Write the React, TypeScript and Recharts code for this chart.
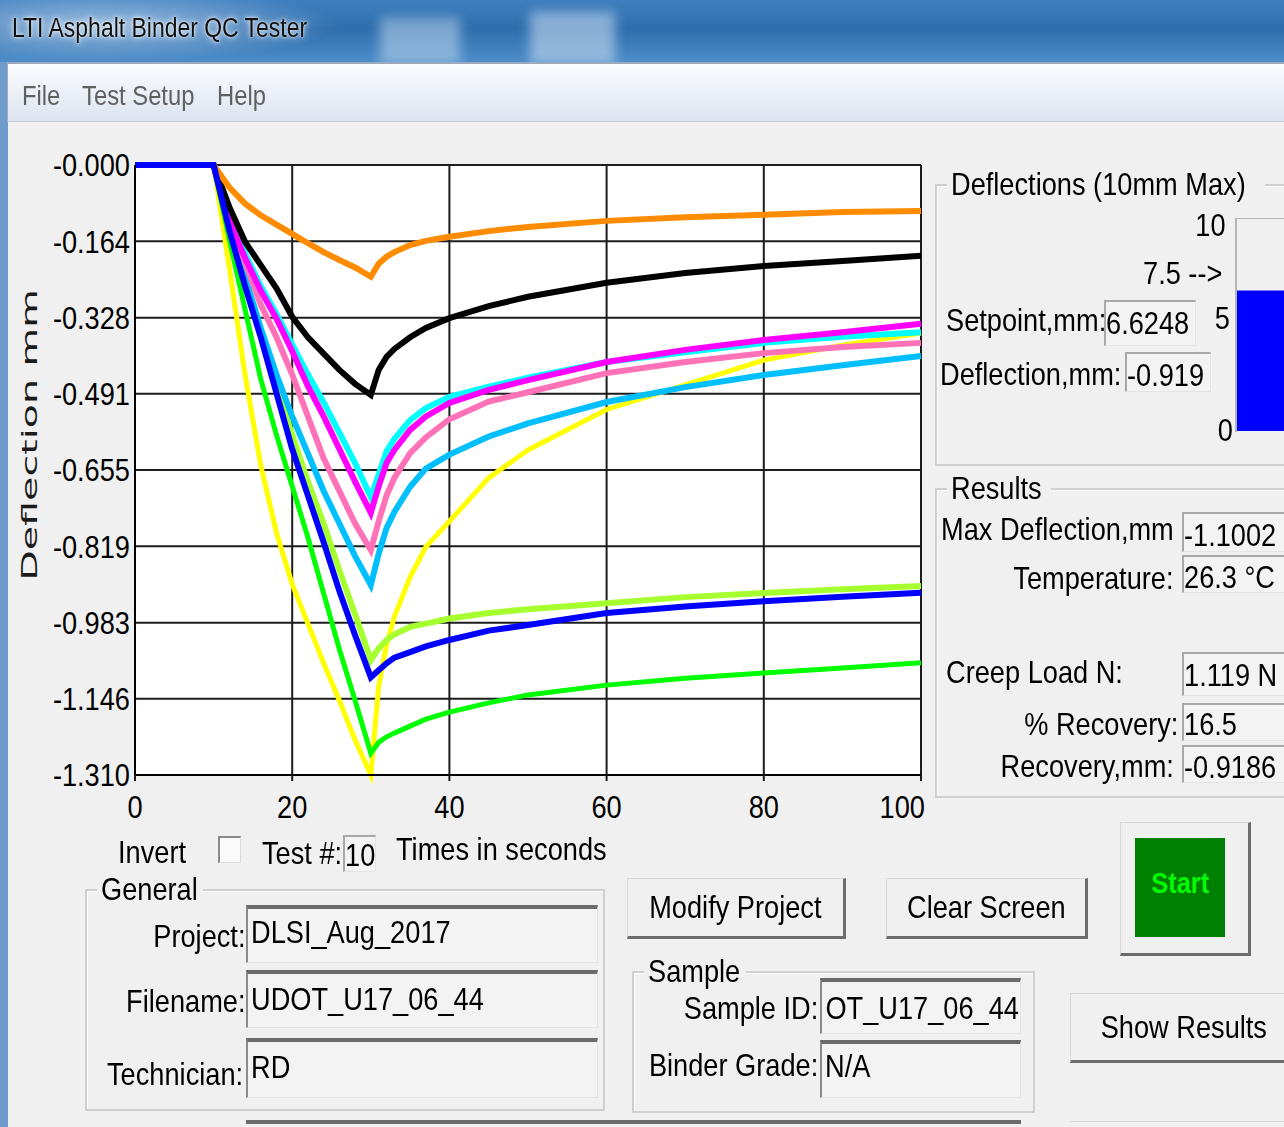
import React from 'react';
import { LineChart, Line, XAxis, YAxis, CartesianGrid, BarChart, Bar } from 'recharts';

// sample times (s) shared by every test trace
const time = [0, 10, 12, 14, 16, 18, 20, 22, 24, 26, 28, 30, 31, 32, 33, 35, 37, 40, 45, 50, 60, 70, 80, 90, 100];

// deflection traces (mm), one per stored test
const orange = [0, 0, -0.048, -0.083, -0.108, -0.128, -0.148, -0.168, -0.187, -0.204, -0.22, -0.24, -0.212, -0.197, -0.187, -0.172, -0.163, -0.154, -0.142, -0.133, -0.12, -0.112, -0.107, -0.101, -0.099];
const black = [0, 0, -0.09, -0.165, -0.215, -0.265, -0.326, -0.37, -0.405, -0.44, -0.47, -0.494, -0.44, -0.412, -0.395, -0.37, -0.35, -0.329, -0.303, -0.283, -0.253, -0.232, -0.217, -0.206, -0.195];
const cyan = [0, 0, -0.11, -0.19, -0.26, -0.32, -0.385, -0.45, -0.51, -0.575, -0.64, -0.713, -0.665, -0.615, -0.588, -0.548, -0.522, -0.498, -0.476, -0.457, -0.423, -0.402, -0.382, -0.369, -0.359];
const magenta = [0, 0, -0.12, -0.2, -0.27, -0.33, -0.4, -0.475, -0.54, -0.61, -0.68, -0.747, -0.69, -0.64, -0.612, -0.569, -0.54, -0.511, -0.483, -0.462, -0.423, -0.397, -0.376, -0.359, -0.341];
const pink = [0, 0, -0.12, -0.21, -0.3, -0.37, -0.45, -0.54, -0.63, -0.7, -0.77, -0.827, -0.765, -0.71, -0.672, -0.619, -0.585, -0.546, -0.508, -0.488, -0.447, -0.423, -0.404, -0.391, -0.382];
const skyBlue = [0, 0, -0.13, -0.24, -0.35, -0.45, -0.54, -0.62, -0.7, -0.77, -0.84, -0.902, -0.835, -0.78, -0.745, -0.691, -0.652, -0.622, -0.583, -0.555, -0.509, -0.477, -0.451, -0.43, -0.41];
const yellow = [0, 0, -0.22, -0.45, -0.645, -0.79, -0.9, -0.985, -1.07, -1.15, -1.235, -1.31, -1.12, -1.03, -0.97, -0.885, -0.82, -0.765, -0.672, -0.612, -0.525, -0.472, -0.419, -0.387, -0.361];
const yellowGreen = [0, 0, -0.13, -0.25, -0.36, -0.47, -0.58, -0.68, -0.77, -0.87, -0.965, -1.063, -1.038, -1.02, -1.008, -0.992, -0.985, -0.974, -0.962, -0.954, -0.941, -0.928, -0.919, -0.911, -0.904];
const green = [0, 0, -0.16, -0.31, -0.46, -0.58, -0.69, -0.8, -0.92, -1.04, -1.15, -1.263, -1.24, -1.228, -1.22, -1.205, -1.19, -1.175, -1.155, -1.138, -1.117, -1.102, -1.091, -1.08, -1.069];
const blue = [0, 0, -0.14, -0.26, -0.37, -0.49, -0.61, -0.71, -0.81, -0.915, -1.01, -1.1002, -1.085, -1.07, -1.058, -1.046, -1.034, -1.02, -1.0, -0.988, -0.962, -0.948, -0.937, -0.927, -0.9186];

const yTicks = [0, -0.164, -0.328, -0.491, -0.655, -0.819, -0.983, -1.146, -1.31];
const xTicks = [0, 20, 40, 60, 80, 100];

// setpoint gauge, 0..10 mm
const gaugeData = [{ name: 'Setpoint', mm: 6.6248 }];

// drawing order: last one ends up on top
const series = [
  { key: 'yellow', color: '#ffff00', width: 5, values: yellow },
  { key: 'green', color: '#00ff00', width: 5, values: green },
  { key: 'yellowGreen', color: '#a6ff2e', width: 6, values: yellowGreen },
  { key: 'skyBlue', color: '#00bfff', width: 6, values: skyBlue },
  { key: 'pink', color: '#ff72b8', width: 6, values: pink },
  { key: 'cyan', color: '#00ffff', width: 6, values: cyan },
  { key: 'magenta', color: '#ff00ff', width: 6, values: magenta },
  { key: 'black', color: '#000000', width: 6, values: black },
  { key: 'orange', color: '#ff8c00', width: 6, values: orange },
  { key: 'blue', color: '#0000ff', width: 6, values: blue },
];

const rows = time.map((t, i) => {
  const row: any = { t };
  series.forEach(s => { row[s.key] = s.values[i]; });
  return row;
});

// Arial squeezed horizontally, close to the narrow dialog font
const SANS = '"Liberation Sans", Arial, sans-serif';
const FS = 32;
const SX = 0.85;

type TxtProps = { x: number; y: number; right?: boolean; size?: number; color?: string; weight?: number; children: React.ReactNode; style?: React.CSSProperties };

// text placed by its vertical centre; x is the left edge, or the right edge when right is set
const Txt = ({ x, y, right, size = FS, color = '#000', weight = 400, children, style }: TxtProps) => (
  <div
    style={{
      position: 'absolute',
      top: y - size / 2,
      left: right ? x - 500 : x,
      width: right ? 500 : undefined,
      textAlign: right ? 'right' : 'left',
      fontFamily: SANS,
      fontSize: size,
      lineHeight: 1,
      color,
      fontWeight: weight,
      whiteSpace: 'nowrap',
      ...style,
    }}
  >
    <span style={{ display: 'inline-block', transform: `scaleX(${SX})`, transformOrigin: right ? 'right center' : 'left center' }}>{children}</span>
  </div>
);

const Field = ({ left, top, width, height, heavy }: { left: number; top: number; width: number; height: number; heavy?: boolean }) => (
  <div
    style={{
      position: 'absolute',
      left,
      top,
      width,
      height,
      boxSizing: 'border-box',
      background: '#f3f3f3',
      borderTop: heavy ? '4px solid #6b6b6b' : '2px solid #a8a8a8',
      borderLeft: heavy ? '2px solid #8a8a8a' : '2px solid #a8a8a8',
      borderRight: '1px solid #e4e4e4',
      borderBottom: '1px solid #e4e4e4',
    }}
  />
);

const Group = ({ left, top, width, height, title, titleWidth }: { left: number; top: number; width: number; height: number; title: string; titleWidth: number }) => (
  <>
    <div
      style={{
        position: 'absolute',
        left,
        top,
        width,
        height,
        boxSizing: 'border-box',
        border: '2px solid #cfcfcf',
        boxShadow: 'inset 1px 1px 0 #ffffff',
      }}
    />
    <div style={{ position: 'absolute', left: left + 12, top: top - 4, width: titleWidth, height: 8, background: '#f0f0f0' }} />
    <Txt x={left + 16} y={top}>{title}</Txt>
  </>
);

const Button = ({ left, top, width, height, label }: { left: number; top: number; width: number; height: number; label: string }) => (
  <div
    style={{
      position: 'absolute',
      left,
      top,
      width,
      height,
      boxSizing: 'border-box',
      background: '#f0f0f0',
      borderTop: '1px solid #d8d8d8',
      borderLeft: '1px solid #d8d8d8',
      borderRight: '3px solid #6c6c6c',
      borderBottom: '3px solid #6c6c6c',
      display: 'flex',
      alignItems: 'center',
      justifyContent: 'center',
      fontFamily: SANS,
      fontSize: FS,
      color: '#000',
      whiteSpace: 'nowrap',
    }}
  >
    <span style={{ display: 'inline-block', transform: `scaleX(${SX})` }}>{label}</span>
  </div>
);

const YTick = ({ x, y, payload }: any) => (
  <g transform={`translate(${x},${y})`}>
    <text transform={`scale(${SX},1)`} textAnchor="end" dy="0.355em" fill="#000" fontSize={FS} fontFamily={SANS}>
      {payload.value === 0 ? '-0.000' : Number(payload.value).toFixed(3)}
    </text>
  </g>
);

// the last label is pulled inside the plot edge
const XTick = ({ x, y, payload }: any) => {
  const last = payload.value === xTicks[xTicks.length - 1];
  return (
    <g transform={`translate(${last ? x + 4 : x},${y})`}>
      <text transform={`scale(${SX},1)`} textAnchor={last ? 'end' : 'middle'} dy="0.71em" fill="#000" fontSize={FS} fontFamily={SANS}>
        {payload.value}
      </text>
    </g>
  );
};

export default function App() {
  return (
    <div style={{ position: 'absolute', left: 0, top: 0, width: 1284, height: 1127, overflow: 'hidden', background: '#f0f0f0' }}>
      {/* title bar */}
      <div style={{ position: 'absolute', left: 0, top: 0, width: 1284, height: 64, background: 'linear-gradient(180deg, #3f7fbf 0%, #2f6eae 45%, #4f8fca 100%)' }} />
      <div style={{ position: 'absolute', left: 0, top: 0, width: 340, height: 62, background: 'radial-gradient(ellipse at 30% 40%, rgba(190,215,240,0.75), rgba(120,170,220,0) 70%)' }} />
      <div style={{ position: 'absolute', left: 380, top: 18, width: 80, height: 46, background: 'rgba(220,235,250,0.45)', filter: 'blur(6px)' }} />
      <div style={{ position: 'absolute', left: 530, top: 12, width: 85, height: 52, background: 'rgba(225,238,252,0.5)', filter: 'blur(6px)' }} />
      <Txt x={12} y={28} size={27} color="#111" style={{ textShadow: '0 0 8px rgba(255,255,255,0.95), 0 0 3px rgba(255,255,255,0.9)' }}>
        LTI Asphalt Binder QC Tester
      </Txt>

      {/* window frame and menu bar */}
      <div style={{ position: 'absolute', left: 0, top: 62, width: 8, height: 1065, background: '#6f9ccc' }} />
      <div style={{ position: 'absolute', left: 7, top: 62, width: 1277, height: 60, boxSizing: 'border-box', borderTop: '2px solid #9aa9bd', borderLeft: '1px solid #9aa9bd', borderBottom: '1px solid #c3cddb', background: 'linear-gradient(180deg, #fbfcfe 0%, #eef2f9 40%, #dde4f0 100%)' }} />
      <Txt x={22} y={96} size={28} color="#606060">File</Txt>
      <Txt x={82} y={96} size={28} color="#606060">Test Setup</Txt>
      <Txt x={217} y={96} size={28} color="#606060">Help</Txt>

      {/* deflection vs time plot */}
      <div style={{ position: 'absolute', left: 0, top: 0 }}>
        <LineChart width={940} height={860} data={rows} margin={{ top: 165, right: 19, bottom: 35, left: 10 }}>
          <CartesianGrid fill="#ffffff" stroke="#1c1c1c" strokeWidth={2} horizontalValues={yTicks} verticalValues={xTicks} />
          <XAxis
            type="number"
            dataKey="t"
            domain={[0, 100]}
            ticks={xTicks}
            height={50}
            axisLine={{ stroke: '#000', strokeWidth: 2 }}
            tickLine={{ stroke: '#1c1c1c', strokeWidth: 2 }}
            tickSize={6}
            tickMargin={14}
            tick={<XTick />}
          />
          <YAxis
            type="number"
            domain={[-1.31, 0]}
            ticks={yTicks}
            width={125}
            interval={0}
            axisLine={{ stroke: '#000', strokeWidth: 2 }}
            tickLine={false}
            tickSize={0}
            tickMargin={5}
            tick={<YTick />}
          />
          {series.map(s => (
            <Line
              key={s.key}
              type="linear"
              dataKey={s.key}
              stroke={s.color}
              strokeWidth={s.width}
              strokeLinejoin="miter"
              dot={false}
              isAnimationActive={false}
            />
          ))}
        </LineChart>
      </div>
      <div
        style={{
          position: 'absolute',
          left: 30,
          top: 435,
          transform: 'translate(-50%, -50%) rotate(-90deg) scaleX(1.8)',
          fontFamily: '"DejaVu Sans", sans-serif',
          fontSize: 22,
          lineHeight: 1,
          color: '#1a1a1a',
          whiteSpace: 'nowrap',
        }}
      >
        Deflection mm
      </div>

      {/* deflection gauge panel */}
      <Group left={935} top={184} width={380} height={282} title="Deflections (10mm Max)" titleWidth={318} />
      <Txt x={1226} y={225} right>10</Txt>
      <Txt x={1222} y={273} right>7.5 --&gt;</Txt>
      <Txt x={1230} y={318} right>5</Txt>
      <Txt x={1233} y={430} right>0</Txt>
      <div style={{ position: 'absolute', left: 1235, top: 218, width: 80, height: 214, boxSizing: 'border-box', borderTop: '1px solid #b4b4b4', borderLeft: '2px solid #b4b4b4' }} />
      <div style={{ position: 'absolute', left: 1237, top: 219 }}>
        <BarChart width={60} height={212} data={gaugeData} margin={{ top: 0, right: 0, bottom: 0, left: 0 }} barCategoryGap={0}>
          <XAxis dataKey="name" hide />
          <YAxis domain={[0, 10]} hide />
          <Bar dataKey="mm" fill="#0000ff" isAnimationActive={false} />
        </BarChart>
      </div>
      <Txt x={946} y={320}>Setpoint,mm:</Txt>
      <Field left={1104} top={300} width={92} height={46} />
      <Txt x={1106} y={323}>6.6248</Txt>
      <Txt x={940} y={374}>Deflection,mm:</Txt>
      <Field left={1125} top={352} width={86} height={40} />
      <Txt x={1127} y={375}>-0.919</Txt>

      {/* results panel */}
      <Group left={935} top={488} width={380} height={310} title="Results" titleWidth={104} />
      <Txt x={941} y={529}>Max Deflection,mm</Txt>
      <Field left={1182} top={512} width={120} height={40} />
      <Txt x={1184} y={535}>-1.1002</Txt>
      <Txt x={1174} y={578} right>Temperature:</Txt>
      <Field left={1182} top={555} width={120} height={38} />
      <Txt x={1184} y={577}>26.3 °C</Txt>
      <Txt x={946} y={672}>Creep Load N:</Txt>
      <Field left={1182} top={652} width={120} height={44} />
      <Txt x={1184} y={675}>1.119 N</Txt>
      <Txt x={1178} y={724} right>% Recovery:</Txt>
      <Field left={1182} top={703} width={120} height={38} />
      <Txt x={1184} y={724}>16.5</Txt>
      <Txt x={1174} y={766} right>Recovery,mm:</Txt>
      <Field left={1182} top={745} width={120} height={38} />
      <Txt x={1184} y={767}>-0.9186</Txt>

      {/* controls under the plot */}
      <Txt x={118} y={852}>Invert</Txt>
      <div style={{ position: 'absolute', left: 218, top: 836, width: 23, height: 27, boxSizing: 'border-box', background: '#fafafa', borderTop: '2px solid #8a8a8a', borderLeft: '2px solid #8a8a8a', borderRight: '1px solid #dcdcdc', borderBottom: '1px solid #dcdcdc' }} />
      <Txt x={262} y={853}>Test #:</Txt>
      <Field left={343} top={835} width={33} height={37} />
      <Txt x={345} y={855}>10</Txt>
      <Txt x={396} y={849}>Times in seconds</Txt>

      {/* project details */}
      <Group left={85} top={889} width={520} height={222} title="General" titleWidth={106} />
      <Txt x={245} y={936} right>Project:</Txt>
      <Field left={246} top={905} width={352} height={58} heavy />
      <Txt x={251} y={932}>DLSI_Aug_2017</Txt>
      <Txt x={245} y={1001} right>Filename:</Txt>
      <Field left={246} top={970} width={352} height={58} heavy />
      <Txt x={251} y={999}>UDOT_U17_06_44</Txt>
      <Txt x={243} y={1074} right>Technician:</Txt>
      <Field left={246} top={1038} width={352} height={60} heavy />
      <Txt x={251} y={1067}>RD</Txt>

      <Button left={627} top={878} width={219} height={61} label="Modify Project" />
      <Button left={886} top={878} width={202} height={61} label="Clear Screen" />

      {/* start button */}
      <div style={{ position: 'absolute', left: 1120, top: 822, width: 131, height: 134, boxSizing: 'border-box', background: '#f0f0f0', borderTop: '1px solid #d8d8d8', borderLeft: '1px solid #d8d8d8', borderRight: '3px solid #6c6c6c', borderBottom: '3px solid #6c6c6c' }} />
      <div style={{ position: 'absolute', left: 1135, top: 838, width: 90, height: 99, background: '#008000' }} />
      <div style={{ position: 'absolute', left: 1135, top: 868, width: 90, textAlign: 'center', fontFamily: SANS, fontSize: 30, lineHeight: 1, fontWeight: 700, color: '#00ff00' }}>
        <span style={{ display: 'inline-block', transform: `scaleX(${SX})` }}>Start</span>
      </div>

      {/* sample details; the id field is scrolled to its end */}
      <Group left={632} top={971} width={403} height={142} title="Sample" titleWidth={102} />
      <Txt x={818} y={1008} right>Sample ID:</Txt>
      <Field left={820} top={978} width={201} height={56} heavy />
      <div style={{ position: 'absolute', left: 824, top: 1008 - FS / 2, width: 195, height: FS + 4, overflow: 'hidden', display: 'flex', justifyContent: 'flex-end', fontFamily: SANS, fontSize: FS, lineHeight: 1, whiteSpace: 'nowrap' }}>
        <span style={{ display: 'inline-block', flexShrink: 0, transform: `scaleX(${SX})`, transformOrigin: 'right center' }}>UDOT_U17_06_44</span>
      </div>
      <Txt x={818} y={1065} right>Binder Grade:</Txt>
      <Field left={820} top={1040} width={201} height={58} heavy />
      <Txt x={825} y={1066}>N/A</Txt>

      <Button left={1070} top={993} width={230} height={70} label="Show Results" />

      {/* edges of the next row of boxes */}
      <div style={{ position: 'absolute', left: 246, top: 1120, width: 775, height: 10, borderTop: '4px solid #6b6b6b' }} />
      <div style={{ position: 'absolute', left: 1070, top: 1121, width: 230, height: 10, borderTop: '1px solid #d8d8d8' }} />
    </div>
  );
}
